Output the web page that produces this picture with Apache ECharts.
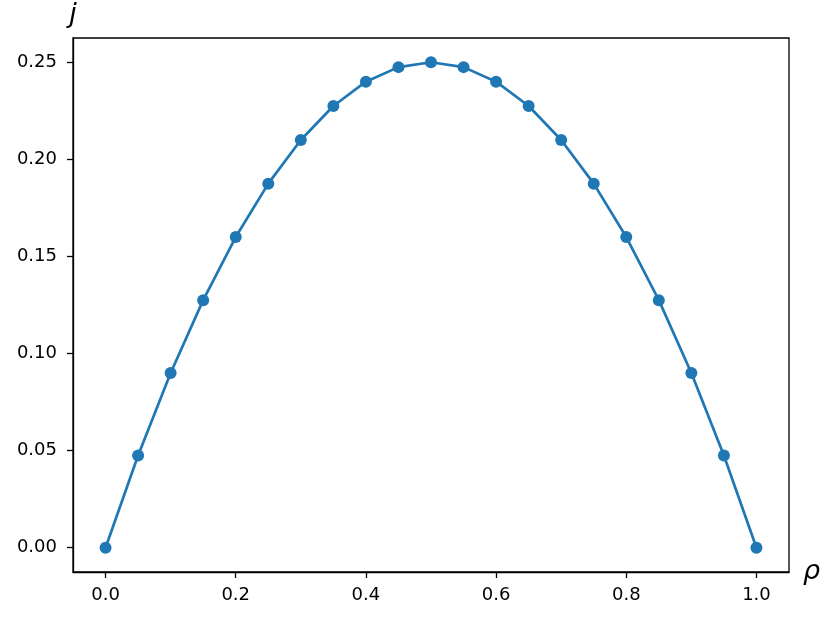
<!DOCTYPE html>
<html><head><meta charset="utf-8">
<script src="https://cdn.jsdelivr.net/npm/echarts@6/dist/echarts.min.js"></script>
<style>html,body{margin:0;padding:0;background:#fff}#c{width:830px;height:620px}</style>
</head><body><div id="c"></div>
<script>
const rho = [0.0,0.05,0.1,0.15,0.2,0.25,0.3,0.35,0.4,0.45,0.5,0.55,0.6,0.65,0.7,0.75,0.8,0.85,0.9,0.95,1.0];
const jVals = [0.0,0.0475,0.09,0.1275,0.16,0.1875,0.21,0.2275,0.24,0.2475,0.25,0.2475,0.24,0.2275,0.21,0.1875,0.16,0.1275,0.09,0.0475,0.0];
const xTicks = [0.0,0.2,0.4,0.6,0.8,1.0];
const yTicks = [0.0,0.05,0.1,0.15,0.2,0.25];
const font = 'DejaVu Sans';
const chart = echarts.init(document.getElementById('c'), null, {renderer:'canvas'});
chart.setOption({
  animation:false,
  grid:{left:73,right:41,top:38,bottom:48,show:true,borderColor:'#000',borderWidth:1.3,backgroundColor:'transparent'},
  xAxis:{type:'value',min:-0.05,max:1.05,
    name:'ρ',nameLocation:'end',nameGap:14,
    nameTextStyle:{fontFamily:font,fontStyle:'italic',fontSize:27,color:'#000',verticalAlign:'middle'},
    axisLine:{show:true,onZero:false,lineStyle:{color:'#000',width:1.3}},
    axisTick:{show:true,inside:false,length:6,lineStyle:{color:'#000',width:1.3},customValues:xTicks},
    axisLabel:{fontFamily:font,fontSize:18,color:'#000',margin:14,customValues:xTicks,formatter:v=>v.toFixed(1)},
    splitLine:{show:false}},
  yAxis:{type:'value',min:-0.0125,max:0.2625,
    name:'j',nameLocation:'end',nameGap:10,
    nameTextStyle:{fontFamily:font,fontStyle:'italic',fontSize:27,color:'#000',align:'center'},
    axisLine:{show:true,onZero:false,lineStyle:{color:'#000',width:1.3}},
    axisTick:{show:true,inside:false,length:6,lineStyle:{color:'#000',width:1.3},customValues:yTicks},
    axisLabel:{fontFamily:font,fontSize:18,color:'#000',margin:16,customValues:yTicks,formatter:v=>v.toFixed(2)},
    splitLine:{show:false}},
  series:[{type:'line',data:rho.map((x,i)=>[x,jVals[i]]),
    symbol:'circle',symbolSize:12,showSymbol:true,
    lineStyle:{color:'#1f77b4',width:2.7},
    itemStyle:{color:'#1f77b4',borderWidth:0}}]
});
</script></body></html>
